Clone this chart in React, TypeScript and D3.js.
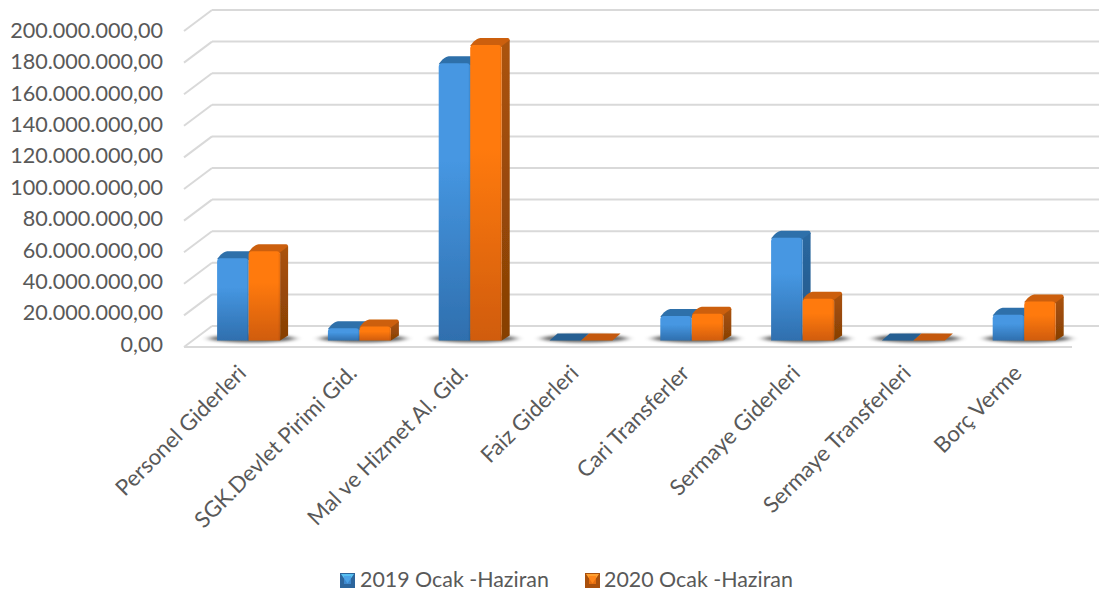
import React from "react";
import * as d3 from "d3";

const categories = ["Personel Giderleri","SGK.Devlet Pirimi Gid.","Mal ve Hizmet Al. Gid.","Faiz Giderleri","Cari Transferler","Sermaye Giderleri","Sermaye Transferleri","Borç Verme"];
const seriesNames = ["2019 Ocak -Haziran","2020 Ocak -Haziran"];
const values2019 = [52000000,7800000,175500000,300000,15500000,65000000,150000,16300000];
const values2020 = [56500000,8800000,187000000,300000,17000000,26500000,150000,24700000];
const yTicks = [0,20,40,60,80,100,120,140,160,180,200].map(d=>d*1000000);

const font = "Lato, Carlito, sans-serif";
const textColor = "#595959";
const grid = "#d9d9d9";
const W = 1099, H = 594;
const wallY = d3.scaleLinear().domain([0,200000000]).range([326,10]);
const barY = d3.scaleLinear().domain([0,200000000]).range([340.5,24.5]);
const labelY = d3.scaleLinear().domain([0,200000000]).range([344,30.5]);
const x0 = d3.scaleBand<string>().domain(categories).range([193.6,1080]);
const x1 = d3.scaleBand<string>().domain(seriesNames).range([23.5,86.5]);
const fmt = (v:number)=> d3.format(",.2f")(v).replace(/,/g,"#").replace(".",",").replace(/#/g,".");
const dx = 8, dy = -7;

const pal = [
  {hi:"#4697e2",lo:"#2f6fae",top:"#2f70aa",side0:"#2a68a0",side1:"#22578a",flat:"#255f92"},
  {hi:"#ff7a10",lo:"#d05c08",top:"#cc5f0b",side0:"#ab530a",side1:"#863f05",flat:"#c4590a"},
];

function Bar({x,y,w,base,s}:{x:number;y:number;w:number;base:number;s:number}){
  const p = pal[s];
  const h = base-y;
  const r = Math.min(3.5,h/2);
  if(h<2){
    return <polygon points={`${x},${base} ${x+w},${base} ${x+w+dx},${base+dy} ${x+dx},${base+dy}`} fill={p.flat}/>;
  }
  const tr = Math.min(3,h/3);
  return <g>
    <path d={`M${x},${y+1} C${x+2},${y-2} ${x+5},${y+dy+1} ${x+dx+2},${y+dy} L${x+w+dx-2},${y+dy} Q${x+w+dx},${y+dy} ${x+w+dx},${y+dy+tr} L${x+w},${y+2} Z`} fill={p.top}/>
    <path d={`M${x+w},${y+1} L${x+w+dx},${y+dy+tr-1} L${x+w+dx},${base+dy+2} L${x+w},${base} Z`} fill={`url(#side${s})`}/>
    <path d={`M${x},${y+r} Q${x},${y} ${x+r},${y} L${x+w-r},${y} Q${x+w},${y} ${x+w},${y+r} L${x+w},${base} L${x},${base} Z`} fill={`url(#front${s})`}/>
    <rect x={x+w-1.5} y={y+1} width={1.5} height={h-1} fill="#000" opacity={0.07}/>
  </g>;
}

function Swatch({x,y,s}:{x:number;y:number;s:number}){
  const size = 15;
  const p = pal[s];
  return <g>
    <rect x={x} y={y} width={size} height={size} fill={s===0?"#2c659c":"#a9500c"}/>
    <polygon points={`${x+1},${y+1} ${x+size-1},${y+1} ${x+size/2},${y+size/2+3}`} fill={s===0?"#57c0f2":"#ffa030"}/>
    <rect x={x+4} y={y+3} width={size-8} height={size-7} fill={p.hi} opacity={0.7}/>
  </g>;
}

export default function App(){
  return <svg width={W} height={H} style={{position:"absolute",left:0,top:0,background:"#fff"}} fontFamily={font}>
    <defs>
      {pal.map((p,s)=><React.Fragment key={s}>
        <linearGradient id={`front${s}`} x1="0" y1="0" x2="0" y2="1"><stop offset="0" stopColor={p.hi}/><stop offset="0.35" stopColor={p.hi}/><stop offset="1" stopColor={p.lo}/></linearGradient>
        <linearGradient id={`side${s}`} x1="0" y1="0" x2="0" y2="1"><stop offset="0" stopColor={p.side0}/><stop offset="1" stopColor={p.side1}/></linearGradient>
      </React.Fragment>)}
      <filter id="shadow" x="-30%" y="-200%" width="160%" height="500%"><feGaussianBlur stdDeviation="4.5 1.6"/></filter>
      <filter id="soft" x="-5%" y="-5%" width="110%" height="110%"><feGaussianBlur stdDeviation="0.55"/></filter>
    </defs>
    <g stroke={grid} strokeWidth={2} fill="none">
      {yTicks.map(t=><g key={t}>
        <line x1={212} x2={1099} y1={wallY(t)} y2={wallY(t)}/>
        <line x1={184} x2={212} y1={wallY(t)+21} y2={wallY(t)}/>
      </g>)}
      <line x1={184} x2={1072} y1={347} y2={347}/>
    </g>
    {categories.map(c=><ellipse key={c} cx={(x0(c) as number)+x0.bandwidth()/2+3} cy={338.5} rx={43} ry={4} fill="#000" opacity={0.6} filter="url(#shadow)"/>)}
    <g filter="url(#soft)">
      {categories.map((c,i)=>[values2019[i],values2020[i]].map((v,s)=>{
        const x=(x0(c) as number)+(x1(seriesNames[s]) as number);
        return <Bar key={c+s} x={x} y={barY(v)} w={x1.bandwidth()} base={barY(0)} s={s}/>;
      }))}
    </g>
    <g fill={textColor} fontSize={21.6} textAnchor="end">
      {yTicks.map(t=><text key={t} x={163} y={labelY(t)} dy="0.35em">{fmt(t)}</text>)}
    </g>
    <g fill={textColor} fontSize={22.2} textAnchor="end">
      {categories.map(c=>{
        const x=(x0(c) as number)+x0.bandwidth()/2-7, y=369;
        return <text key={c} transform={`translate(${x},${y}) rotate(-45)`} dy="0.35em">{c}</text>;
      })}
    </g>
    <g>
      <Swatch x={340} y={573} s={0}/>
      <text x={360} y={580} dy="0.35em" fontSize={21.4} fill={textColor}>{seriesNames[0]}</text>
      <Swatch x={585} y={573} s={1}/>
      <text x={604} y={580} dy="0.35em" fontSize={21.4} fill={textColor}>{seriesNames[1]}</text>
    </g>
  </svg>;
}
